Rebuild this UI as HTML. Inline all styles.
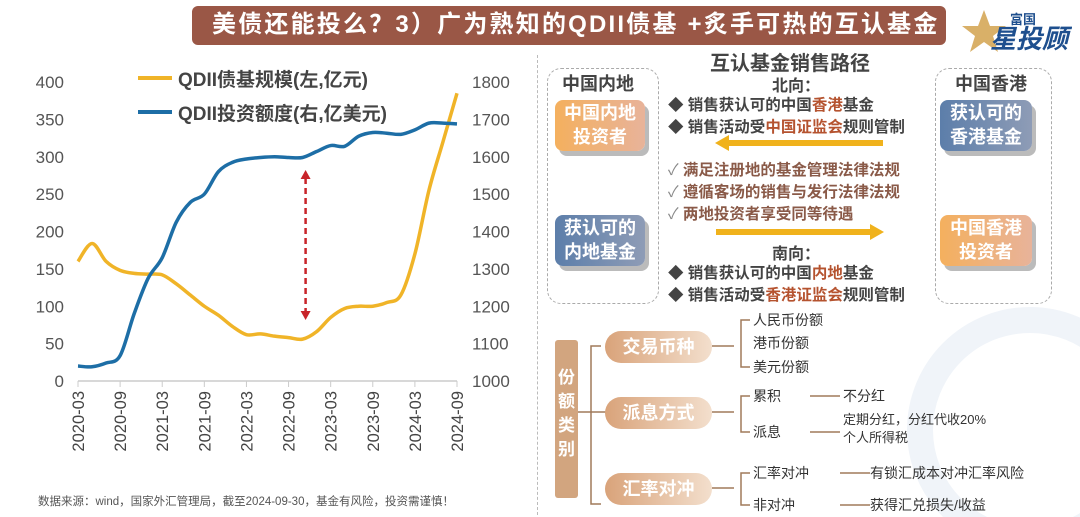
<!DOCTYPE html>
<html><head><meta charset="utf-8">
<style>
body{margin:0;width:1080px;height:517px;overflow:hidden;background:#fff;font-family:"Liberation Sans","Noto Sans CJK SC",sans-serif;position:relative}
.a{position:absolute;white-space:nowrap}
.b{font-weight:bold}
</style></head><body>
<div class="a" style="left:192px;top:6px;width:754px;height:39px;background:#9a5746;border-radius:6px"></div>
<div class="a b" style="left:212px;top:8px;font-size:24px;color:#fff;line-height:34px;letter-spacing:2.2px">美债还能投么？3）广为熟知的QDII债基 +炙手可热的互认基金</div>
<div class="a" style="left:962px;top:4px;width:110px;height:50px">
 <svg width="110" height="50"><polygon points="22,6 28,22 44,22 31,32 36,48 22,38 8,48 13,32 0,22 16,22" fill="#d9b068"/>
 <text x="48" y="20" font-size="13" font-weight="bold" fill="#1e4f8e" font-family="Noto Sans CJK SC">富国</text>
 <text x="28" y="44" font-size="26" font-weight="bold" fill="#1e4f8e" font-style="italic" font-family="Noto Sans CJK SC">星投顾</text></svg></div>

<svg class="a" style="left:0;top:0" width="535" height="517" id="chart"></svg>
<div class="a" style="left:38px;top:493px;font-size:11.5px;color:#555">数据来源：wind，国家外汇管理局，截至2024-09-30，基金有风险，投资需谨慎！</div>

<div class="a" style="left:537px;top:55px;height:460px;border-left:1.5px dashed #bbb"></div>

<svg class="a" style="left:870px;top:300px" width="210" height="217"><circle cx="160" cy="130" r="110" fill="none" stroke="#f0f4f9" stroke-width="26"/></svg>

<div class="a b" style="left:710px;top:47px;font-size:20px;color:#444">互认基金销售路径</div>
<div class="a" style="left:547px;top:68px;width:110px;height:234px;border:1.5px dashed #aaa;border-radius:14px"></div>
<div class="a" style="left:935px;top:68px;width:115px;height:234px;border:1.5px dashed #aaa;border-radius:14px"></div>
<div class="a b" style="left:562px;top:70px;font-size:18px;color:#444">中国内地</div>
<div class="a b" style="left:955px;top:70px;font-size:18px;color:#444">中国香港</div>
<div class="a b" style="left:555px;top:100px;width:90px;height:50px;background:linear-gradient(90deg,#f4b05e,#e8b39a);border-radius:8px;box-shadow:4px 5px 0 #bbb;color:#fff;font-size:18px;line-height:24px;text-align:center;padding-top:1px">中国内地<br>投资者</div>
<div class="a b" style="left:555px;top:215px;width:90px;height:50px;background:linear-gradient(90deg,#5c7eaa,#8e9cb6);border-radius:8px;box-shadow:4px 5px 0 #bbb;color:#fff;font-size:18px;line-height:24px;text-align:center;padding-top:1px">获认可的<br>内地基金</div>
<div class="a b" style="left:940px;top:100px;width:92px;height:50px;background:linear-gradient(90deg,#5c7eaa,#8e9cb6);border-radius:8px;box-shadow:4px 5px 0 #bbb;color:#fff;font-size:18px;line-height:24px;text-align:center;padding-top:1px">获认可的<br>香港基金</div>
<div class="a b" style="left:940px;top:215px;width:92px;height:50px;background:linear-gradient(90deg,#f4b05e,#e8b39a);border-radius:8px;box-shadow:4px 5px 0 #bbb;color:#fff;font-size:18px;line-height:24px;text-align:center;padding-top:1px">中国香港<br>投资者</div>

<div class="a b" style="left:772px;top:72px;font-size:16px;color:#444">北向：</div>
<div class="a b" style="left:668px;top:93px;font-size:15.5px;color:#444">◆ 销售获认可的中国<span style="color:#b5532f">香港</span>基金</div>
<div class="a b" style="left:668px;top:115px;font-size:15.5px;color:#444">◆ 销售活动受<span style="color:#b5532f">中国证监会</span>规则管制</div>
<svg class="a" style="left:715px;top:134px" width="170" height="18"><polygon points="0,9 14,1 14,6 168,6 168,12 14,12 14,17" fill="#f0b21c"/></svg>
<div class="a b" style="left:668px;top:158px;font-size:15.5px;color:#8a5a48"><span style="color:#888;font-weight:normal">✓ </span>满足注册地的基金管理法律法规</div>
<div class="a b" style="left:668px;top:180px;font-size:15.5px;color:#8a5a48"><span style="color:#888;font-weight:normal">✓ </span>遵循客场的销售与发行法律法规</div>
<div class="a b" style="left:668px;top:202px;font-size:15.5px;color:#8a5a48"><span style="color:#888;font-weight:normal">✓ </span>两地投资者享受同等待遇</div>
<svg class="a" style="left:716px;top:223px" width="170" height="18"><polygon points="168,9 154,1 154,6 0,6 0,12 154,12 154,17" fill="#f0b21c"/></svg>
<div class="a b" style="left:772px;top:240px;font-size:16px;color:#444">南向：</div>
<div class="a b" style="left:668px;top:261px;font-size:15.5px;color:#444">◆ 销售获认可的中国<span style="color:#b5532f">内地</span>基金</div>
<div class="a b" style="left:668px;top:283px;font-size:15.5px;color:#444">◆ 销售活动受<span style="color:#b5532f">香港证监会</span>规则管制</div>

<div class="a b" style="left:555px;top:340px;width:23px;height:158px;background:#d2a57f;border-radius:3px;color:#fff;font-size:17px;line-height:24px;text-align:center;padding-top:26px;box-sizing:border-box;white-space:normal">份<br>额<br>类<br>别</div>
<svg class="a" style="left:578px;top:310px" width="300" height="207" fill="none" stroke="#a07a5a" stroke-width="1.5">
<path d="M0,102 H13 M23,36 H13 V194 H23 M13,102 H30"/>
<path d="M134,36 H156 M172,10 H163 V57 H172 M134,102 H156 M172,86 H163 V122 H172 M134,178 H156 M172,163 H163 V195 H172"/>
<path d="M232,86 H262 M232,122 H262 M262,163 H292 M262,195 H292"/>
</svg>
<div class="a b" style="left:605px;top:331px;width:107px;height:32px;background:linear-gradient(90deg,#d9a37a,#f3dfcd);border-radius:16px;color:#fff;font-size:18px;line-height:32px;text-align:center">交易币种</div>
<div class="a b" style="left:605px;top:397px;width:107px;height:32px;background:linear-gradient(90deg,#d9a37a,#f3dfcd);border-radius:16px;color:#fff;font-size:18px;line-height:32px;text-align:center">派息方式</div>
<div class="a b" style="left:605px;top:473px;width:107px;height:32px;background:linear-gradient(90deg,#d9a37a,#f3dfcd);border-radius:16px;color:#fff;font-size:18px;line-height:32px;text-align:center">汇率对冲</div>
<div class="a" style="left:753px;top:310px;font-size:14px;color:#333;line-height:20px">人民币份额</div>
<div class="a" style="left:753px;top:333px;font-size:14px;color:#333;line-height:20px">港币份额</div>
<div class="a" style="left:753px;top:357px;font-size:14px;color:#333;line-height:20px">美元份额</div>
<div class="a" style="left:753px;top:386px;font-size:14px;color:#333;line-height:20px">累积</div>
<div class="a" style="left:843px;top:386px;font-size:14px;color:#333;line-height:20px">不分红</div>
<div class="a" style="left:753px;top:422px;font-size:14px;color:#333;line-height:20px">派息</div>
<div class="a" style="left:843px;top:411px;font-size:13px;color:#333;line-height:18px">定期分红，分红代收20%<br>个人所得税</div>
<div class="a" style="left:753px;top:463px;font-size:14px;color:#333;line-height:20px">汇率对冲</div>
<div class="a" style="left:870px;top:463px;font-size:14px;color:#333;line-height:20px">有锁汇成本对冲汇率风险</div>
<div class="a" style="left:753px;top:495px;font-size:14px;color:#333;line-height:20px">非对冲</div>
<div class="a" style="left:870px;top:495px;font-size:14px;color:#333;line-height:20px">获得汇兑损失/收益</div>

<script>
const months=["2020-03","2020-05","2020-07","2020-09","2020-11","2021-01","2021-03","2021-05","2021-07","2021-09","2021-11","2022-01","2022-03","2022-05","2022-07","2022-09","2022-11","2023-01","2023-03","2023-05","2023-07","2023-09","2023-11","2024-01","2024-03","2024-05","2024-07","2024-09"];
const bondFundSize=[160,184,160,148,144,143,142,130,115,100,88,73,62,63,60,58,56,66,85,97,100,100,105,115,170,255,320,385];
const quotaUsd=[1040,1038,1048,1068,1180,1275,1330,1425,1478,1500,1560,1585,1594,1598,1600,1598,1598,1614,1630,1628,1655,1665,1663,1660,1672,1690,1690,1688];
const xTicks=["2020-03","2020-09","2021-03","2021-09","2022-03","2022-09","2023-03","2023-09","2024-03","2024-09"];
const leftTicks=[0,50,100,150,200,250,300,350,400];
const rightTicks=[1000,1100,1200,1300,1400,1500,1600,1700,1800];
const svg=document.getElementById('chart'),NS='http://www.w3.org/2000/svg';
const X0=78,X1=457,Y0=381,Y1=82;
function mi(m){const[y,mm]=m.split('-').map(Number);return (y-2020)*12+mm-3;}
const x=m=>X0+(X1-X0)*mi(m)/54;
const yl=v=>Y0-(Y0-Y1)*v/400;
const yr=v=>Y0-(Y0-Y1)*(v-1000)/800;
function mk(t,a,txt){const e=document.createElementNS(NS,t);for(const k in a)e.setAttribute(k,a[k]);if(txt!=null)e.textContent=txt;svg.appendChild(e);return e;}
mk('line',{x1:X0,y1:Y0,x2:X1,y2:Y0,stroke:'#ccc','stroke-width':1.5});
leftTicks.forEach(v=>{const t=mk('text',{x:64,y:yl(v)+6,'text-anchor':'end','font-size':17,fill:'#555'},v);

});
rightTicks.forEach(v=>{const t=mk('text',{x:472,y:yr(v)+6,'font-size':17,fill:'#555'},v);

});
xTicks.forEach(m=>{const xx=x(m);mk('line',{x1:xx,y1:Y0,x2:xx,y2:Y0+6,stroke:'#ccc'});
const t=mk('text',{x:xx+6,y:Y0+10,'text-anchor':'end','font-size':16.5,fill:'#444',transform:`rotate(-90 ${xx+6} ${Y0+10})`},m);

});
function path(vals,fy){const p=vals.map((v,i)=>[x(months[i]),fy(v)]);let d=`M${p[0][0]},${p[0][1]}`;
for(let i=0;i<p.length-1;i++){const a=p[Math.max(0,i-1)],b=p[i],c=p[i+1],e=p[Math.min(p.length-1,i+2)];
d+=` C${b[0]+(c[0]-a[0])/6},${b[1]+(c[1]-a[1])/6} ${c[0]-(e[0]-b[0])/6},${c[1]-(e[1]-b[1])/6} ${c[0]},${c[1]}`;}return d;}
const l1=mk('path',{d:path(bondFundSize,yl),fill:'none',stroke:'#f0b428','stroke-width':3.5});


const l2=mk('path',{d:path(quotaUsd,yr),fill:'none',stroke:'#1d6ea6','stroke-width':3.5});


const ax=x("2022-11")+3;
const ar=mk('line',{x1:ax,y1:178,x2:ax,y2:312,stroke:'#c8242a','stroke-width':2.5,'stroke-dasharray':'6,4'});


mk('polygon',{points:`${ax-5},179 ${ax+5},179 ${ax},170`,fill:'#c8242a'});
mk('polygon',{points:`${ax-5},311 ${ax+5},311 ${ax},320`,fill:'#c8242a'});
const lg1=mk('line',{x1:138,y1:78,x2:172,y2:78,stroke:'#f0b428','stroke-width':4});


const lt1=mk('text',{x:178,y:86,'font-size':19,'font-weight':'bold',fill:'#444'},'QDII债基规模(左,亿元)');


const lg2=mk('line',{x1:138,y1:112,x2:172,y2:112,stroke:'#1d6ea6','stroke-width':4});


const lt2=mk('text',{x:178,y:120,'font-size':19,'font-weight':'bold',fill:'#444'},'QDII投资额度(右,亿美元)');


</script>
</body></html>
